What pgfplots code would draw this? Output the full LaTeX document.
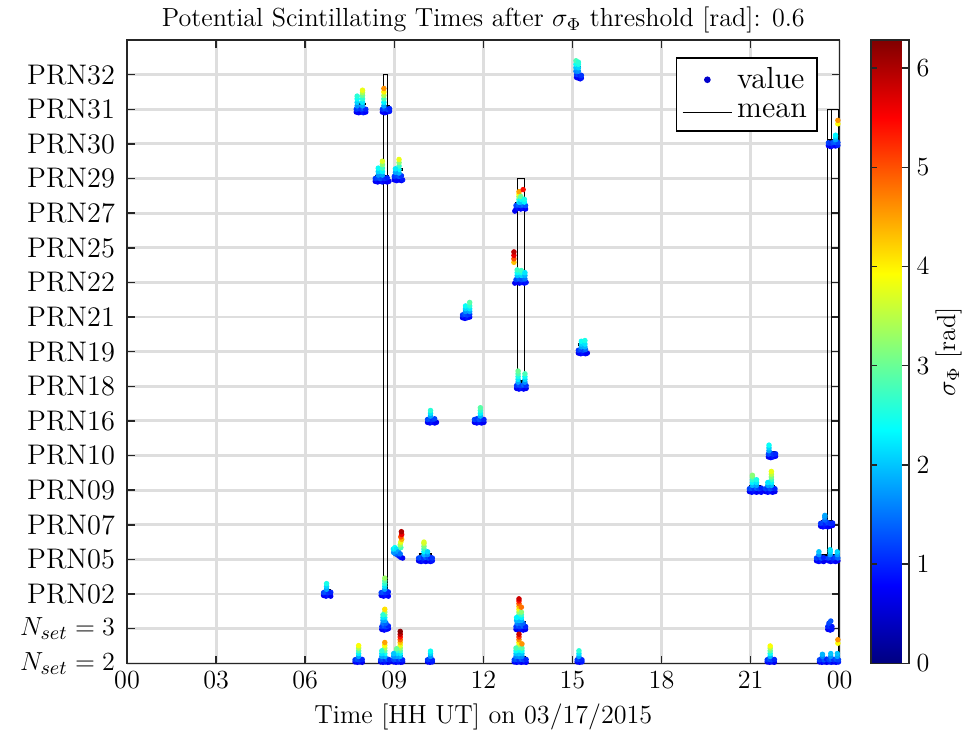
\documentclass[border=0pt]{standalone}
\usepackage{pgfplots}
\usepackage{pgfplotstable}
\pgfplotsset{compat=1.18}
\pgfplotstableread{
x y c
15.14 16.92 0.7
15.20 16.90 0.8
15.26 16.88 0.7
15.30 16.90 0.9
15.14 17.00 1.1
15.20 17.00 1.2
15.26 16.98 1.0
15.30 16.98 1.1
15.12 17.10 1.6
15.12 17.20 2.0
15.12 17.30 2.4
15.12 17.40 2.8
15.20 17.10 1.7
15.20 17.20 2.1
15.20 17.30 2.5
15.20 17.36 2.6
7.72 15.92 0.7
7.80 15.90 0.8
7.88 15.92 0.7
7.96 15.90 0.9
8.04 15.92 0.8
7.72 16.00 1.1
7.80 16.02 1.2
7.88 16.00 1.1
7.96 16.02 1.3
8.04 16.00 1.0
7.75 16.10 1.7
7.75 16.20 2.1
7.75 16.30 2.4
7.75 16.38 2.6
7.93 16.10 1.8
7.93 16.20 2.2
7.93 16.30 2.6
7.93 16.40 3.0
7.93 16.48 3.4
7.93 16.55 3.8
8.60 15.92 0.7
8.68 15.90 0.8
8.76 15.92 0.7
8.84 15.94 0.9
8.60 16.00 1.1
8.68 16.02 1.3
8.76 16.00 1.2
8.84 16.02 1.0
8.65 16.10 1.8
8.65 16.20 2.3
8.65 16.30 2.8
8.65 16.40 3.4
8.65 16.50 4.0
8.65 16.60 4.6
23.62 14.95 0.8
23.70 14.92 0.7
23.78 14.95 0.9
23.86 14.94 0.8
23.94 14.96 1.0
23.62 15.03 1.2
23.70 15.02 1.1
23.78 15.04 1.3
23.86 15.05 1.4
23.94 15.04 1.2
23.86 15.12 1.8
23.86 15.20 2.1
23.86 15.25 2.3
23.94 15.58 3.9
23.94 15.68 4.6
8.36 13.92 0.7
8.44 13.90 0.8
8.52 13.92 0.7
8.60 13.90 0.9
8.68 13.92 0.8
8.76 13.90 0.7
8.82 13.92 0.8
8.36 14.00 1.1
8.44 14.02 1.2
8.52 14.00 1.3
8.60 14.02 1.2
8.68 14.00 1.1
8.76 14.02 1.0
8.46 14.10 1.7
8.46 14.20 2.1
8.46 14.30 2.4
8.60 14.10 1.8
8.60 14.20 2.3
8.60 14.30 2.7
8.60 14.40 3.2
8.60 14.50 3.7
9.00 13.96 0.7
9.08 13.94 0.8
9.16 13.96 0.8
9.24 13.94 0.7
9.28 13.96 0.9
9.00 14.06 1.1
9.08 14.08 1.2
9.16 14.06 1.3
9.24 14.08 1.1
9.16 14.16 1.9
9.16 14.26 2.3
9.16 14.36 2.7
9.16 14.46 3.2
9.16 14.55 3.8
9.04 14.18 1.8
9.04 14.28 2.2
13.06 13.06 0.7
13.10 13.12 0.8
13.18 13.14 0.9
13.26 13.12 0.8
13.34 13.14 0.9
13.42 13.12 0.8
13.10 13.22 1.2
13.18 13.24 1.4
13.26 13.22 1.3
13.34 13.24 1.5
13.42 13.22 1.3
13.20 13.32 2.2
13.20 13.40 2.6
13.20 13.48 3.3
13.20 13.55 3.9
13.20 13.62 4.5
13.26 13.32 2.0
13.26 13.40 2.4
13.26 13.48 3.0
13.38 13.32 2.3
13.38 13.40 2.5
13.34 13.68 5.4
13.06 10.98 0.7
13.14 11.00 0.8
13.22 10.98 0.7
13.30 11.00 0.9
13.38 10.98 0.8
13.44 11.00 0.9
13.10 11.08 1.2
13.20 11.10 1.4
13.30 11.08 1.3
13.40 11.10 1.5
13.14 11.20 2.0
13.14 11.28 2.4
13.14 11.36 2.7
13.28 11.20 2.1
13.28 11.28 2.5
13.28 11.34 2.7
13.40 11.20 1.9
13.40 11.28 2.2
13.03 11.58 4.3
13.03 11.68 5.0
13.03 11.78 5.6
13.03 11.88 5.9
11.30 9.98 0.7
11.38 9.96 0.8
11.46 9.98 0.9
11.54 10.00 0.8
11.30 10.06 1.1
11.38 10.08 1.3
11.46 10.06 1.2
11.54 10.08 1.1
11.40 10.16 1.7
11.40 10.24 2.1
11.40 10.32 2.4
11.54 10.16 1.8
11.54 10.24 2.2
11.54 10.32 2.6
11.54 10.42 2.9
15.20 8.96 0.7
15.28 8.94 0.8
15.36 8.96 0.9
15.44 8.94 0.8
15.50 8.96 0.7
15.20 9.04 1.1
15.28 9.06 1.3
15.36 9.04 1.2
15.44 9.06 1.4
15.30 9.14 1.8
15.30 9.22 2.1
15.30 9.30 2.4
15.42 9.14 1.9
15.42 9.22 2.2
15.42 9.32 2.5
13.12 7.94 0.7
13.20 7.92 0.8
13.28 7.94 0.9
13.36 7.92 0.8
13.44 7.94 0.7
13.12 8.02 1.1
13.20 8.04 1.3
13.28 8.02 1.2
13.36 8.04 1.4
13.44 8.02 1.1
13.17 8.12 1.8
13.17 8.20 2.2
13.17 8.28 2.5
13.17 8.36 2.8
13.17 8.44 3.0
13.40 8.12 1.7
13.40 8.20 2.1
13.40 8.28 2.4
13.40 8.36 2.8
10.12 6.96 0.7
10.20 6.94 0.8
10.28 6.96 0.9
10.36 6.94 0.8
10.42 6.96 0.7
10.12 7.04 1.2
10.20 7.06 1.3
10.28 7.04 1.1
10.36 7.06 1.2
10.22 7.14 1.8
10.22 7.22 2.2
10.22 7.30 2.6
11.70 6.96 0.7
11.78 6.94 0.8
11.86 6.96 0.9
11.94 6.94 0.8
12.02 6.96 0.7
11.70 7.04 1.2
11.78 7.06 1.1
11.86 7.04 1.3
11.94 7.06 1.2
12.02 7.04 1.0
11.90 7.14 1.9
11.90 7.22 2.3
11.90 7.30 2.6
11.90 7.38 2.9
21.60 5.96 0.7
21.68 5.94 0.8
21.76 5.96 0.9
21.84 5.98 0.8
21.60 6.04 1.2
21.68 6.06 1.3
21.76 6.04 1.1
21.84 6.05 1.0
21.62 6.14 1.8
21.62 6.22 2.1
21.62 6.30 2.4
20.96 4.96 0.7
21.04 4.94 0.8
21.12 4.96 0.9
21.20 4.94 0.8
21.28 4.96 0.7
21.36 4.94 0.8
20.96 5.04 1.2
21.04 5.06 1.3
21.12 5.04 1.1
21.20 5.06 1.4
21.28 5.04 1.2
21.36 5.06 1.0
21.06 5.14 1.9
21.06 5.22 2.3
21.06 5.30 2.6
21.06 5.38 3.0
21.06 5.43 3.2
21.20 5.14 1.8
21.20 5.22 2.2
21.20 5.30 2.5
21.50 4.96 0.7
21.58 4.94 0.8
21.66 4.96 0.9
21.74 4.94 0.8
21.82 4.96 0.7
21.50 5.04 1.2
21.58 5.06 1.1
21.66 5.04 1.3
21.74 5.06 1.2
21.82 5.04 1.0
21.70 5.14 1.9
21.70 5.22 2.3
21.70 5.30 2.7
21.70 5.38 3.1
21.70 5.46 3.5
21.70 5.54 3.8
21.58 5.14 1.8
21.58 5.22 2.2
23.36 3.96 0.7
23.44 3.94 0.8
23.52 3.96 0.9
23.60 3.94 0.8
23.68 3.96 0.7
23.76 3.98 0.8
23.36 4.04 1.1
23.44 4.06 1.2
23.52 4.04 1.0
23.60 4.06 1.2
23.68 4.04 1.1
23.76 4.05 1.0
23.50 4.14 1.4
23.50 4.22 1.7
23.50 4.27 1.8
9.28 3.04 0.7
9.22 3.06 0.8
9.15 3.10 0.9
9.10 3.14 1.1
9.04 3.16 1.4
8.98 3.20 1.7
8.97 3.30 2.2
9.02 3.34 2.4
9.07 3.30 2.2
9.14 3.22 1.8
9.20 3.16 1.5
9.22 3.34 2.8
9.20 3.42 3.3
9.22 3.50 3.8
9.25 3.58 4.4
9.22 3.65 5.0
9.25 3.72 5.6
9.24 3.80 6.0
9.82 2.96 0.7
9.90 2.94 0.8
9.98 2.96 0.9
10.06 2.94 0.8
10.14 2.96 0.7
10.22 2.94 0.8
10.28 2.96 0.9
9.82 3.04 1.2
9.90 3.06 1.3
9.98 3.04 1.1
10.06 3.06 1.4
10.14 3.04 1.2
10.22 3.06 1.0
10.28 3.04 1.1
10.00 3.14 1.9
10.00 3.22 2.3
10.00 3.30 2.7
10.00 3.38 3.1
10.00 3.46 3.5
10.00 3.50 3.7
10.12 3.14 1.7
10.12 3.22 2.1
23.22 2.96 0.7
23.30 2.94 0.8
23.38 2.96 0.9
23.46 2.94 0.7
23.62 2.96 0.8
23.70 2.94 0.7
23.78 2.96 0.9
23.86 2.94 0.8
23.94 2.96 0.7
23.22 3.04 1.2
23.30 3.06 1.1
23.38 3.04 1.3
23.46 3.05 1.0
23.62 3.04 1.2
23.70 3.06 1.3
23.78 3.04 1.1
23.86 3.06 1.2
23.94 3.04 1.4
23.30 3.14 1.7
23.30 3.22 2.0
23.68 3.14 1.8
23.68 3.22 2.1
23.68 3.28 2.2
23.92 3.14 1.8
23.92 3.22 2.1
6.62 1.96 0.7
6.70 1.94 0.8
6.78 1.96 0.9
6.86 1.94 0.7
6.62 2.04 1.2
6.70 2.06 1.3
6.78 2.04 1.1
6.86 2.05 1.0
6.72 2.14 1.8
6.72 2.22 2.1
6.72 2.30 2.5
8.56 1.96 0.7
8.64 1.94 0.8
8.72 1.96 0.9
8.80 1.94 0.8
8.56 2.04 1.2
8.64 2.06 1.3
8.72 2.04 1.1
8.80 2.06 1.0
8.68 2.14 1.8
8.68 2.22 2.2
8.68 2.30 2.6
8.68 2.38 2.9
8.68 2.46 3.3
8.58 0.98 0.7
8.66 0.96 0.8
8.74 0.98 0.9
8.80 1.00 0.8
8.58 1.06 1.1
8.66 1.08 1.3
8.74 1.06 1.2
8.80 1.08 1.0
8.62 1.16 1.5
8.72 1.16 1.4
8.68 1.24 1.9
8.68 1.32 2.3
8.68 1.40 2.8
8.68 1.48 3.4
8.68 1.56 4.1
8.62 1.24 1.8
8.62 1.32 2.2
8.62 1.40 2.6
13.10 0.98 0.7
13.18 0.96 0.8
13.26 0.98 0.9
13.34 0.96 0.8
13.42 0.98 0.7
13.10 1.06 1.1
13.18 1.08 1.3
13.26 1.06 1.2
13.34 1.08 1.4
13.42 1.06 1.0
13.14 1.16 1.6
13.24 1.16 1.5
13.34 1.16 1.4
13.20 1.24 2.0
13.20 1.32 2.4
13.20 1.40 2.8
13.20 1.48 3.3
13.20 1.56 3.8
13.20 1.64 4.3
13.20 1.72 4.9
13.20 1.80 5.4
13.20 1.86 5.8
13.28 1.24 1.9
13.28 1.32 2.3
13.28 1.40 2.7
13.28 1.48 3.2
13.28 1.62 4.8
13.12 1.24 1.9
13.12 1.32 2.3
23.60 0.98 0.7
23.68 0.96 0.8
23.74 0.98 0.9
23.60 1.06 1.0
23.68 1.08 1.1
23.74 1.06 0.9
23.64 1.16 1.2
23.70 1.22 1.3
7.68 0.04 0.7
7.76 0.03 0.8
7.84 0.04 0.9
7.92 0.03 0.7
7.68 0.10 1.1
7.76 0.12 1.3
7.84 0.10 1.2
7.92 0.11 1.0
7.80 0.20 1.8
7.80 0.28 2.3
7.80 0.36 2.8
7.80 0.44 3.4
7.80 0.51 3.9
8.54 0.04 0.7
8.62 0.03 0.8
8.70 0.04 0.9
8.78 0.03 0.8
8.84 0.04 0.7
8.54 0.10 1.2
8.62 0.12 1.3
8.70 0.10 1.1
8.78 0.12 1.4
8.84 0.10 1.0
8.68 0.20 1.9
8.68 0.28 2.4
8.68 0.36 2.9
8.68 0.44 3.4
8.68 0.52 3.9
8.68 0.60 4.5
8.58 0.20 1.8
8.58 0.28 2.2
8.58 0.36 2.6
8.98 0.04 0.7
9.06 0.03 0.8
9.14 0.04 0.9
9.22 0.03 0.8
9.28 0.04 0.7
8.98 0.10 1.2
9.06 0.12 1.3
9.14 0.10 1.1
9.22 0.12 1.4
9.28 0.10 1.0
9.20 0.20 1.9
9.20 0.28 2.3
9.20 0.36 2.8
9.20 0.44 3.3
9.20 0.52 3.8
9.20 0.60 4.3
9.20 0.68 4.9
9.20 0.76 5.4
9.20 0.84 5.9
9.20 0.92 6.2
9.08 0.20 1.8
9.08 0.28 2.2
9.08 0.36 2.6
9.08 0.42 3.0
8.98 0.20 1.7
8.98 0.28 2.0
10.12 0.04 0.7
10.20 0.03 0.8
10.28 0.04 0.9
10.12 0.10 1.1
10.20 0.12 1.2
10.28 0.10 1.0
10.22 0.20 1.7
10.22 0.28 2.1
10.22 0.35 2.4
13.04 0.04 0.7
13.12 0.03 0.8
13.20 0.04 0.9
13.28 0.03 0.8
13.36 0.04 0.7
13.44 0.03 0.8
13.04 0.10 1.2
13.12 0.12 1.3
13.20 0.10 1.1
13.28 0.12 1.4
13.36 0.10 1.2
13.44 0.11 1.0
13.10 0.20 1.6
13.20 0.20 1.7
13.30 0.20 1.6
13.20 0.28 2.1
13.20 0.36 2.5
13.20 0.44 3.0
13.20 0.52 3.5
13.20 0.60 4.0
13.20 0.68 4.6
13.20 0.76 5.2
13.20 0.84 5.8
13.30 0.28 2.0
13.30 0.36 2.4
13.30 0.44 2.9
13.30 0.56 4.6
13.10 0.28 2.0
13.10 0.36 2.4
13.10 0.44 2.8
15.16 0.04 0.7
15.24 0.03 0.8
15.32 0.04 0.9
15.16 0.10 1.1
15.24 0.12 1.2
15.32 0.10 1.0
15.22 0.20 1.8
15.22 0.28 2.2
15.22 0.36 2.6
21.56 0.04 0.7
21.64 0.03 0.8
21.72 0.04 0.9
21.80 0.03 0.7
21.56 0.10 1.1
21.64 0.12 1.3
21.72 0.10 1.2
21.80 0.11 1.0
21.66 0.20 1.9
21.66 0.28 2.4
21.66 0.36 2.9
21.66 0.44 3.4
21.66 0.50 3.9
23.32 0.04 0.7
23.40 0.03 0.8
23.48 0.04 0.9
23.56 0.03 0.7
23.64 0.04 0.8
23.72 0.03 0.9
23.80 0.04 0.7
23.88 0.03 0.8
23.96 0.04 0.9
23.32 0.10 1.2
23.40 0.12 1.1
23.48 0.10 1.3
23.56 0.12 1.0
23.64 0.10 1.2
23.72 0.12 1.4
23.80 0.10 1.1
23.88 0.12 1.3
23.96 0.10 1.2
23.42 0.20 1.6
23.42 0.26 1.9
23.70 0.20 1.7
23.70 0.28 2.0
23.92 0.20 1.8
23.92 0.28 2.0
23.94 0.58 3.9
23.94 0.68 4.6
}\valdata
\pgfplotstableread{
x y
8.63 2
8.63 17
8.76 17
8.76 2
nan nan
13.15 8
13.15 14
13.38 14
13.38 8
13.15 8
nan nan
23.60 3
23.60 16
23.73 16
23.73 3
nan nan
23.73 16
23.97 16
23.97 0
}\rectdata
\pgfplotstableread{
x y
15.12 17.2
15.30 17.2
nan nan
7.72 16.15
8.04 16.15
nan nan
8.60 16.08
8.84 16.08
nan nan
23.60 15.1
23.94 15.1
nan nan
8.36 14.05
8.82 14.05
nan nan
9.00 14.27
9.28 14.27
nan nan
13.06 13.29
13.44 13.29
nan nan
13.06 11.18
13.44 11.18
nan nan
11.30 10.2
11.55 10.2
nan nan
15.20 9.2
15.50 9.2
nan nan
13.12 8.15
13.44 8.15
nan nan
10.12 7.08
10.42 7.08
nan nan
11.70 7.08
12.02 7.08
nan nan
21.60 6.1
21.84 6.1
nan nan
20.96 5.12
21.36 5.12
nan nan
21.50 5.1
21.82 5.1
nan nan
23.36 4.1
23.76 4.1
nan nan
8.98 3.3
9.25 3.3
nan nan
9.82 3.15
10.28 3.15
nan nan
23.22 3.12
23.96 3.12
nan nan
6.62 2.1
6.86 2.1
nan nan
8.56 2.08
8.80 2.08
nan nan
8.58 1.15
8.80 1.15
nan nan
13.10 1.18
13.42 1.18
nan nan
23.60 1.1
23.74 1.1
nan nan
7.68 0.15
7.92 0.15
nan nan
8.54 0.15
8.84 0.15
nan nan
9.00 0.2
9.28 0.2
nan nan
10.12 0.1
10.28 0.1
nan nan
13.04 0.18
13.44 0.18
nan nan
15.16 0.12
15.32 0.12
nan nan
21.56 0.12
21.80 0.12
nan nan
23.32 0.1
23.96 0.1
}\meandata
\begin{document}
\begin{tikzpicture}
\begin{axis}[
  name=main,
  scale only axis,
  width=327pt, height=286pt,
  xmin=0, xmax=24, ymin=0, ymax=18,
  xtick={0,3,6,9,12,15,18,21,24},
  xticklabels={00,03,06,09,12,15,18,21,00},
  ytick={0,1,...,17},
  yticklabels={$N_{set}=2$,$N_{set}=3$,PRN02,PRN05,PRN07,PRN09,PRN10,PRN16,PRN18,PRN19,PRN21,PRN22,PRN25,PRN27,PRN29,PRN30,PRN31,PRN32},
  grid=major,
  major grid style={black!13, line width=1.3pt},
  axis line style={black!85, line width=0.7pt},
  tick style={black!85, line width=0.7pt},
  major tick length=3.5pt,
  tick align=inside,
  tick pos=both,
  xticklabel style={font=\fontsize{12}{14}\selectfont},
  yticklabel style={font=\fontsize{13}{15}\selectfont, xshift=-2pt},
  label style={font=\fontsize{12}{14}\selectfont},
  title style={font=\fontsize{12}{14}\selectfont, yshift=-6.5pt},
  title={Potential Scintillating Times after $\sigma_\Phi$ threshold [rad]: 0.6},
  xlabel={Time [HH UT] on 03/17/2015},
  colormap/jet,
  point meta min=0, point meta max=6.2832,
  colorbar,
  colorbar style={
    at={(parent axis.north east)}, anchor=north west, xshift=5.8pt,
    width=17.4pt,
    ytick={0,1,...,6},
    tick align=inside,
    axis line style={black!85, line width=0.7pt},
    tick style={black!85, line width=0.7pt},
    major tick length=3pt,
    yticklabel style={font=\fontsize{12}{14}\selectfont},
    ylabel={$\sigma_\Phi$ [rad]},
    ylabel near ticks,
    ylabel shift=-4pt,
    ylabel style={font=\fontsize{12}{14}\selectfont},
  },
  legend style={at={(0.969,0.973)}, anchor=north east, draw=black, line width=0.8pt,
    font=\fontsize{14}{16}\selectfont, row sep=1.5pt, inner sep=2.5pt},
  legend cell align=left,
  unbounded coords=jump,
]
\addplot[scatter, only marks, mark=*, mark size=1.05pt,
  scatter src=explicit, forget plot,
  scatter/use mapped color={draw=mapped color, fill=mapped color}]
  table[x=x, y=y, meta=c] {\valdata};
\addplot[black, line width=1.3pt, forget plot] table[x=x,y=y] {\meandata};
\addlegendimage{legend image code/.code={\fill[blue!80!black] (0.4cm,0cm) circle (1.1pt);}}
\addlegendentry{value}
\addplot[black, line width=0.5pt,
  legend image code/.code={\draw[black, line width=0.6pt] (0cm,0cm) -- (0.8cm,0cm);}]
  table[x=x,y=y] {\rectdata};
\addlegendentry{mean}
\end{axis}
\path ([shift={(-58.3pt,-36.2pt)}]main.south west) rectangle ([shift={(59.2pt,18.3pt)}]main.north east);
\end{tikzpicture}
\end{document}
